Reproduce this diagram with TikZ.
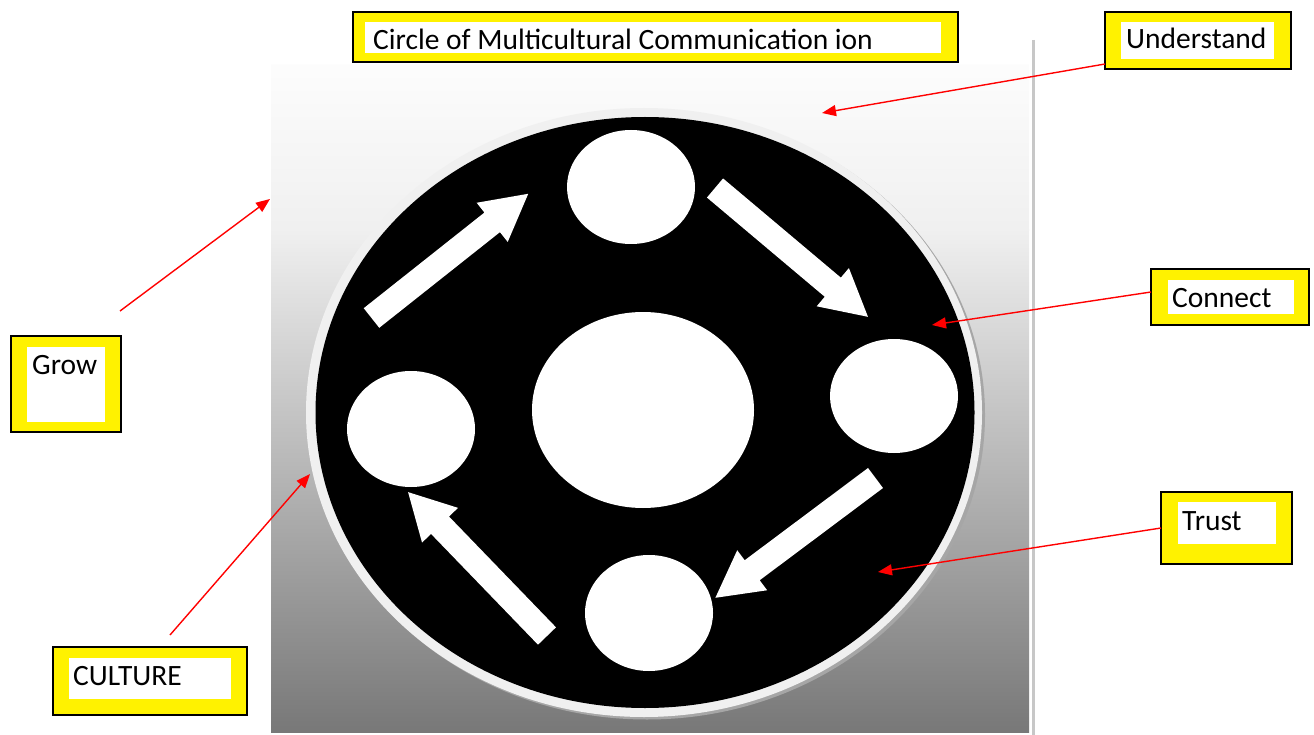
\documentclass[tikz,border=0pt]{standalone}
\usepackage{fontspec}
\setmainfont{Carlito}
\usetikzlibrary{shapes.geometric,arrows.meta}

\tikzset{
  outerbox/.style={draw=black, fill=yellow, line width=1.3pt},
  innerpanel/.style={fill=white},
  labeltext/.style={anchor=base west, inner sep=0pt, font=\fontsize{29.5}{35}\selectfont},
  blob/.style={ellipse, fill=white, inner sep=0pt},
  pointer/.style={draw=red, line width=1.4pt, -{Triangle[length=14pt,width=11pt]}},
  pics/barrow/.style={code={
    \fill[white] (0,-12.5) -- (154,-12.5) -- (154,-25) -- (200,0) -- (154,25)
      -- (154,12.5) -- (0,12.5) -- cycle;
  }},
}

\begin{document}
\begin{tikzpicture}[x=1pt,y=-1pt]
\useasboundingbox (0,0) rectangle (1314,735);

% shaded backdrop (light upper band, then darkening) and divider
\shade[top color=white!99!black, bottom color=black!6] (271,65) rectangle (1029,231);
\shade[top color=black!6, bottom color=black!53] (271,230) rectangle (1029,732);
\draw[black!22, line width=3pt] (1033,40) -- (1033,735);

% disc with light rim and soft shadow
\fill[black!35] (647,415) ellipse [x radius=338, y radius=304.5];
\fill[white!94!black] (644,412.5) ellipse [x radius=338, y radius=304.5];
\fill[black] (645,412.5) ellipse [x radius=329.5, y radius=295.5];

% white spots
\node[blob, minimum width=128, minimum height=114] (top) at (631,187) {};
\node[blob, minimum width=128, minimum height=114] (right) at (894,396) {};
\node[blob, minimum width=128, minimum height=116] (bottom) at (649,613) {};
\node[blob, minimum width=128, minimum height=116] (left) at (411,429) {};
\node[blob, minimum width=222, minimum height=196] (hub) at (643,410) {};

% cycle of block arrows
\pic[rotate=38.4] at (371.5,318) {barrow};
\pic[rotate=-40.1] at (715,188) {barrow};
\pic[rotate=-143.2] at (875.5,478) {barrow};
\pic[rotate=134] at (547,636) {barrow};

% captions
\path[outerbox] (353,12) rectangle (958,62);
\path[innerpanel] (365,22) rectangle (941,53);
\node[labeltext] (title) at (373,50) {Circle of Multicultural Communication ion};

\path[outerbox] (1105,12) rectangle (1291,69);
\path[innerpanel] (1121,22) rectangle (1274,59);
\node[labeltext] (understand) at (1126,49) {Understand};

\path[outerbox] (11,336) rectangle (121,432);
\path[innerpanel] (27,347) rectangle (105,422);
\node[labeltext] (grow) at (32,374) {Grow};

\path[outerbox] (53,647) rectangle (247,715);
\path[innerpanel] (69,658) rectangle (231,699);
\node[labeltext] (culture) at (73,685) {CULTURE};

\path[outerbox] (1151,269) rectangle (1309,325);
\path[innerpanel] (1168,280) rectangle (1294,314);
\node[labeltext] (connect) at (1172,308) {Connect};

\path[outerbox] (1161,492) rectangle (1292,564);
\path[innerpanel] (1178,502) rectangle (1276,544);
\node[labeltext] (trust) at (1182,530) {Trust};

% red pointers
\coordinate (uS) at (1105,64);   \coordinate (uT) at (822,113);
\coordinate (gS) at (120,311);   \coordinate (gT) at (270,199);
\coordinate (cS) at (1151,292);  \coordinate (cT) at (932,325);
\coordinate (tS) at (1161,528);  \coordinate (tT) at (878,572);
\coordinate (kS) at (170,635);   \coordinate (kT) at (310,474);
\draw[pointer] (uS) -- (uT);
\draw[pointer] (gS) -- (gT);
\draw[pointer] (cS) -- (cT);
\draw[pointer] (tS) -- (tT);
\draw[pointer] (kS) -- (kT);
\end{tikzpicture}
\end{document}
